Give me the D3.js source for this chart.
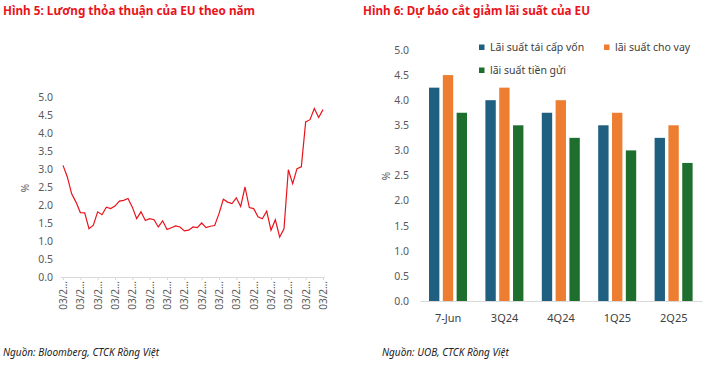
<!DOCTYPE html>
<html>
<head>
<meta charset="utf-8">
<script src="https://cdn.jsdelivr.net/npm/d3@7"></script>
<style>
  body { margin: 0; background: #fff; }
  svg { display: block; font-family: "Noto Sans", sans-serif; }
</style>
</head>
<body>
<svg id="chart" width="712" height="376"></svg>
<script>
// Hinh 5 - luong thoa thuan (quarterly, 61 points)
var wageValues = [3.10, 2.78, 2.31, 2.08, 1.79, 1.78, 1.34, 1.44, 1.81, 1.73,
  1.94, 1.90, 1.97, 2.11, 2.13, 2.18, 1.94, 1.62, 1.81, 1.57,
  1.62, 1.59, 1.39, 1.56, 1.32, 1.37, 1.42, 1.39, 1.28, 1.30,
  1.39, 1.37, 1.50, 1.37, 1.41, 1.43, 1.76, 2.16, 2.08, 2.04,
  2.20, 1.96, 2.50, 1.93, 1.90, 1.67, 1.62, 1.83, 1.30, 1.59,
  1.11, 1.34, 2.98, 2.59, 3.01, 3.06, 4.31, 4.37, 4.68, 4.43, 4.65];
var wageTickLabel = "03/2\u2026";
var wageTickEvery = 4;
var yTicks = [0, 0.5, 1, 1.5, 2, 2.5, 3, 3.5, 4, 4.5, 5];

// Hinh 6 - du bao cat giam lai suat
var periods = ["7-Jun", "3Q24", "4Q24", "1Q25", "2Q25"];
var seriesNames = ["Lãi suất tái cấp vốn", "lãi suất cho vay", "lãi suất tiền gửi"];
var refiRate = [4.25, 4.00, 3.75, 3.50, 3.25];
var lendingRate = [4.50, 4.25, 4.00, 3.75, 3.50];
var depositRate = [3.75, 3.50, 3.25, 3.00, 2.75];
var seriesColors = ["#1f5f7f", "#ed7d31", "#1e6e2e"];

var svg = d3.select("#chart");
var red = "#e8141c";
var grey = "#595959";

// titles
svg.append("text").attr("x", 3).attr("y", 15)
  .attr("font-size", 12.5).attr("font-weight", "bold").attr("fill", red)
  .attr("textLength", 252).attr("lengthAdjust", "spacingAndGlyphs")
  .text("Hình 5: Lương thỏa thuận của EU theo năm");
svg.append("text").attr("x", 363).attr("y", 15)
  .attr("font-size", 12.5).attr("font-weight", "bold").attr("fill", red)
  .attr("textLength", 227).attr("lengthAdjust", "spacingAndGlyphs")
  .text("Hình 6: Dự báo cắt giảm lãi suất của EU");

// sources
svg.append("text").attr("x", 3).attr("y", 356)
  .attr("font-size", 10).attr("font-style", "italic").attr("fill", "#222")
  .text("Nguồn: Bloomberg, CTCK Rồng Việt");
svg.append("text").attr("x", 382).attr("y", 356)
  .attr("font-size", 10).attr("font-style", "italic").attr("fill", "#222")
  .text("Nguồn: UOB, CTCK Rồng Việt");

/// Left: line chart
var x1 = d3.scalePoint().domain(d3.range(wageValues.length)).range([63, 323]);
var y1 = d3.scaleLinear().domain([0, 5]).range([277, 97]);

var yAxis1 = svg.append("g").attr("transform", "translate(57,0)")
  .call(d3.axisLeft(y1).tickValues(yTicks).tickFormat(d3.format(".1f")).tickSize(0).tickPadding(4));
yAxis1.select(".domain").remove();
yAxis1.selectAll("text").attr("font-size", 10.5).attr("fill", grey).attr("font-family", "Noto Sans");

var tickIdx = d3.range(0, wageValues.length, wageTickEvery);
var xAxis1 = svg.append("g").attr("transform", "translate(0,277)")
  .call(d3.axisBottom(x1).tickValues(tickIdx).tickFormat(function(){ return wageTickLabel; }).tickSize(3).tickSizeOuter(0));
xAxis1.select(".domain").attr("stroke", "#d9d9d9").attr("d", "M61,0.5H325");
xAxis1.selectAll("line").attr("stroke", "#d9d9d9");
xAxis1.selectAll("text")
  .attr("font-size", 10).attr("fill", grey).attr("font-family", "Noto Sans")
  .attr("transform", "rotate(-90)").attr("text-anchor", "end")
  .attr("x", -4).attr("y", 0).attr("dy", "0.35em");

svg.append("text").attr("transform", "translate(29,188) rotate(-90)")
  .attr("text-anchor", "middle").attr("font-size", 10).attr("fill", grey).text("%");

svg.append("path").datum(wageValues)
  .attr("fill", "none").attr("stroke", "#e8141c").attr("stroke-width", 1.2)
  .attr("d", d3.line().x(function(d, i){ return x1(i); }).y(function(d){ return y1(d); }));

/// Right: grouped bars
var x2 = d3.scaleBand().domain(periods).range([420, 702]);
var y2 = d3.scaleLinear().domain([0, 5]).range([301, 50]);
var inner = d3.scaleBand().domain(d3.range(3)).range([9, 47]).paddingInner(0.25);

var yAxis2 = svg.append("g").attr("transform", "translate(413,0)")
  .call(d3.axisLeft(y2).tickValues(yTicks).tickFormat(d3.format(".1f")).tickSize(0).tickPadding(4));
yAxis2.select(".domain").remove();
yAxis2.selectAll("text").attr("font-size", 10.5).attr("fill", grey).attr("font-family", "Noto Sans");

svg.append("text").attr("transform", "translate(390,176) rotate(-90)")
  .attr("text-anchor", "middle").attr("font-size", 10).attr("fill", grey).text("%");

var series = [refiRate, lendingRate, depositRate];
series.forEach(function(vals, s){
  svg.append("g").selectAll("rect").data(vals).enter().append("rect")
    .attr("x", function(d, i){ return x2(periods[i]) + inner(s); })
    .attr("width", inner.bandwidth())
    .attr("y", function(d){ return y2(d); })
    .attr("height", function(d){ return y2(0) - y2(d); })
    .attr("fill", seriesColors[s]);
});

var xAxis2 = svg.append("g").attr("transform", "translate(0,301)")
  .call(d3.axisBottom(x2).tickSize(0).tickPadding(13));
xAxis2.select(".domain").attr("stroke", "#d9d9d9");
xAxis2.selectAll("text").attr("font-size", 11).attr("fill", "#404040").attr("font-family", "Noto Sans");

// legend
var legendPos = [[479, 47], [604, 47], [479, 70]];
seriesNames.forEach(function(name, s){
  var g = svg.append("g").attr("transform", "translate(" + legendPos[s][0] + "," + legendPos[s][1] + ")");
  g.append("rect").attr("x", 0).attr("y", -2.5).attr("width", 5.5).attr("height", 5.5).attr("fill", seriesColors[s]);
  g.append("text").attr("x", 11).attr("y", 0).attr("dy", "0.35em")
    .attr("font-size", 10.5).attr("fill", "#404040").text(name);
});
</script>
</body>
</html>
